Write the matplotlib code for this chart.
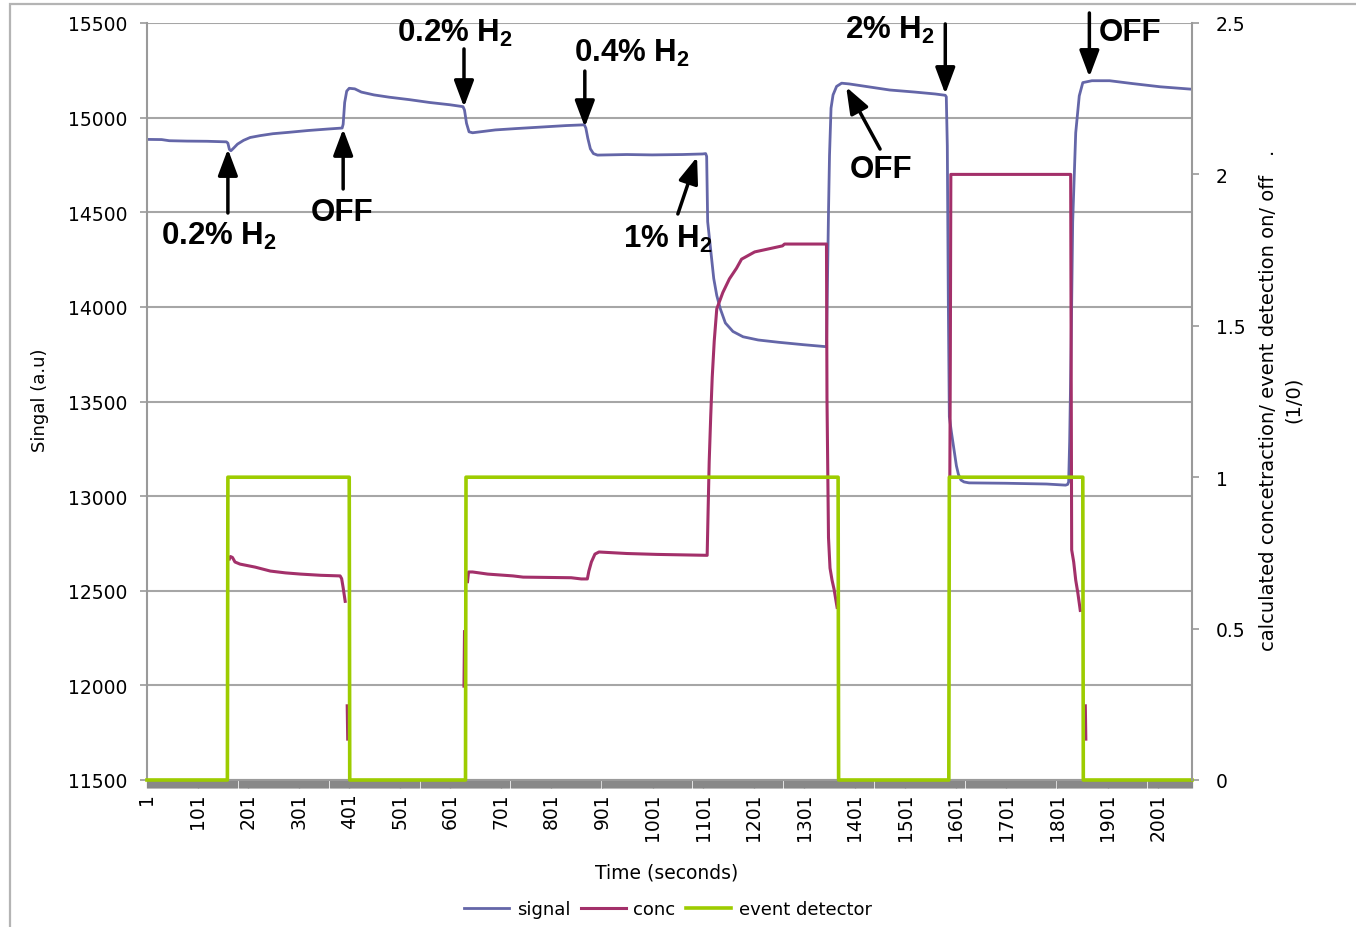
import numpy as np
import matplotlib.pyplot as plt
from matplotlib.ticker import FixedLocator, MultipleLocator
from matplotlib.patches import Rectangle

nan = np.nan

# signal trace (a.u.), read at the turning points of the curve: (time, value)
signal = [(1, 14885), (30, 14884), (45, 14878), (80, 14876), (120, 14875), (158, 14872),
          (161, 14865), (164, 14832), (167, 14825), (172, 14838), (180, 14860), (192, 14880),
          (205, 14895), (225, 14905), (250, 14915), (280, 14922), (320, 14932), (360, 14940),
          (387, 14945), (389, 14965), (392, 15080), (396, 15140), (401, 15155), (412, 15152),
          (425, 15135), (450, 15120), (480, 15108), (520, 15095), (560, 15080), (600, 15068),
          (626, 15058), (629, 15040), (633, 14970), (638, 14925), (645, 14920), (660, 14925),
          (690, 14935), (730, 14942), (780, 14950), (830, 14958), (866, 14962), (869, 14945),
          (873, 14890), (878, 14835), (884, 14810), (892, 14802), (950, 14805), (1000, 14803),
          (1060, 14805), (1100, 14808), (1106, 14810), (1108, 14795), (1110, 14450),
          (1116, 14300), (1122, 14150), (1128, 14060), (1135, 13990), (1145, 13915),
          (1160, 13870), (1180, 13842), (1210, 13825), (1250, 13813), (1300, 13800),
          (1343, 13790), (1345, 13790), (1347, 14140), (1349, 14500), (1351, 14800),
          (1354, 15050), (1358, 15120), (1365, 15165), (1375, 15182), (1390, 15178),
          (1430, 15162), (1470, 15146), (1520, 15135), (1560, 15125), (1580, 15118),
          (1582, 15110), (1584, 14850), (1586, 14030), (1588, 13420), (1592, 13340),
          (1597, 13250), (1602, 13160), (1606, 13115), (1611, 13085), (1617, 13075),
          (1627, 13070), (1700, 13068), (1780, 13064), (1818, 13058), (1822, 13062),
          (1824, 13075), (1826, 13290), (1829, 13800), (1832, 14450), (1838, 14920),
          (1845, 15115), (1852, 15185), (1870, 15195), (1905, 15195), (1950, 15180),
          (2005, 15163), (2068, 15150)]

# calculated concentration; nan where the sheet cell was blank
conc = [(164, 0.73), (166, 0.738), (170, 0.735), (175, 0.72), (185, 0.713), (200, 0.708),
        (215, 0.703), (245, 0.69), (275, 0.684), (305, 0.68), (345, 0.676), (383, 0.674),
        (386, 0.665), (389, 0.635), (393, 0.59), (394, nan),
        (397, 0.245), (398, 0.135), (399, nan),
        (628, 0.31), (629, 0.49), (630, nan),
        (635, 0.655), (637, 0.687), (645, 0.687), (675, 0.68), (725, 0.674), (745, 0.67),
        (840, 0.668), (860, 0.664), (872, 0.664), (875, 0.69), (880, 0.72), (887, 0.746),
        (895, 0.753), (950, 0.748), (1010, 0.745), (1109, 0.742), (1111, 0.90), (1113, 1.05),
        (1116, 1.20), (1119, 1.33), (1123, 1.45), (1128, 1.556), (1140, 1.61), (1153, 1.655),
        (1167, 1.69), (1177, 1.72), (1203, 1.744), (1258, 1.764), (1262, 1.77), (1345, 1.77),
        (1346, 1.26), (1349, 0.80), (1352, 0.70), (1356, 0.66), (1360, 0.63), (1363, 0.60),
        (1366, 0.57), (1367, nan),
        (1589, 1.0), (1590, 1.40), (1591, 2.0), (1828, 2.0), (1830, 0.76), (1834, 0.72),
        (1838, 0.66), (1842, 0.62), (1847, 0.56), (1848, nan),
        (1857, 0.245), (1858, 0.135)]

# event detector on/off
evt_t = [1, 160, 161, 401, 402, 631, 632, 1368, 1369, 1587, 1588, 1852, 1853, 2068]
evt_v = [0, 0, 1, 1, 0, 0, 1, 1, 0, 0, 1, 1, 0, 0]

x_labels = list(range(1, 2002, 100))
n_points = 2068

annotations = [  # label, text pos, arrow tail, arrow tip
    (r"0.2% H$_\mathbf{2}$", (143, 14380), (161, 14496), (161, 14834)),
    ("OFF", (387, 14501), (389, 14623), (389, 14940)),
    (r"0.2% H$_\mathbf{2}$", (610, 15452), (628, 15363), (628, 15056)),
    (r"0.4% H$_\mathbf{2}$", (960, 15347), (867, 15246), (867, 14950)),
    (r"1% H$_\mathbf{2}$", (1032, 14359), (1051, 14491), (1089, 14792)),
    ("OFF", (1453, 14729), (1451, 14834), (1384, 15162)),
    (r"2% H$_\mathbf{2}$", (1471, 15468), (1580, 15495), (1580, 15125)),
    ("OFF", (1946, 15452), (1865, 15553), (1865, 15215)),
]

sig_t, sig_v = zip(*signal)
conc_t, conc_v = zip(*conc)

plt.rcParams['font.family'] = ['DejaVu Sans']
plt.rcParams['mathtext.fontset'] = 'custom'
plt.rcParams['mathtext.rm'] = 'Liberation Sans'
plt.rcParams['mathtext.bf'] = 'Liberation Sans:bold'
grey = '#9a9a9a'

fig = plt.figure(figsize=(13.56, 9.28), dpi=100)
fig.add_artist(Rectangle((10/1356, -0.05), 1.2, 1 - 5/928 + 0.05, transform=fig.transFigure,
                         fill=False, ec='#b4b4b4', lw=1.6))

ax = fig.add_axes([147/1356, 1 - 781/928, (1192 - 147)/1356, (781 - 24)/928])
ax2 = ax.twinx()

l1, = ax.plot(sig_t, sig_v, color='#6466a8', lw=2.0)
l2, = ax2.plot(conc_t, conc_v, color='#a3306a', lw=2.2)
l3, = ax2.plot(evt_t, evt_v, color='#9dcc00', lw=2.6, clip_on=False)

ax.set_xlim(1, n_points)
ax.set_ylim(11500, 15500)
ax2.set_ylim(0, 2.5)

ax.set_yticks(np.arange(11500, 15501, 500))
ax2.set_yticks([0, 0.5, 1, 1.5, 2, 2.5])
ax2.set_yticklabels(['0', '0.5', '1', '1.5', '2', '2.5'])
ax.xaxis.set_major_locator(FixedLocator(x_labels))
ax.set_xticklabels([str(v) for v in x_labels], rotation=90)
ax.xaxis.set_minor_locator(MultipleLocator(2))

ax.grid(axis='y', color='#a6a6a6', lw=1.5)
ax.set_axisbelow(True)

for a in (ax, ax2):
    a.spines['top'].set_visible(False)
    for s in ('left', 'bottom', 'right'):
        a.spines[s].set_color(grey)
        a.spines[s].set_linewidth(1.5)
ax.spines['right'].set_visible(False)
ax2.spines['left'].set_visible(False)
ax2.spines['bottom'].set_visible(False)

ax.tick_params(axis='y', length=5, width=1.2, color=grey, pad=9, labelsize=13.5)
ax2.tick_params(axis='y', length=5, width=1.2, color=grey, pad=12, labelsize=13.5)
ax.tick_params(axis='x', which='both', length=6, width=0.9, color='#888888', pad=3,
               labelsize=13.5)

for label, txt, tail, tip in annotations:
    ax.text(txt[0], txt[1], label, ha='center', va='center', fontsize=22.5, fontweight='bold',
            family=['Liberation Sans', 'DejaVu Sans'], zorder=6)
    ax.annotate('', xy=tip, xytext=tail, annotation_clip=False, zorder=6,
                arrowprops=dict(arrowstyle='-|>,head_length=0.8,head_width=0.3', color='black',
                                lw=2.5, mutation_scale=20, shrinkA=0, shrinkB=0))

fig.text(40/1356, 1 - 400/928, 'Singal (a.u)', rotation=90, ha='center', va='center',
         fontsize=13)
fig.text(667/1356, 1 - 873/928, 'Time (seconds)', ha='center', va='center', fontsize=13.5)
fig.text(1281/1356, 1 - 400/928,
         'calculated concetraction/ event detection on/ off   .\n(1/0)',
         rotation=90, ha='center', va='center', multialignment='center', fontsize=14,
         linespacing=1.4)

fig.legend([l1, l2, l3], ['signal', 'conc', 'event detector'], loc='center',
           bbox_to_anchor=(668/1356, 1 - 910/928), ncol=3, frameon=False, fontsize=13,
           handlelength=2.5, handletextpad=0.4, columnspacing=0.6)

fig.savefig('out.png', dpi=100)
